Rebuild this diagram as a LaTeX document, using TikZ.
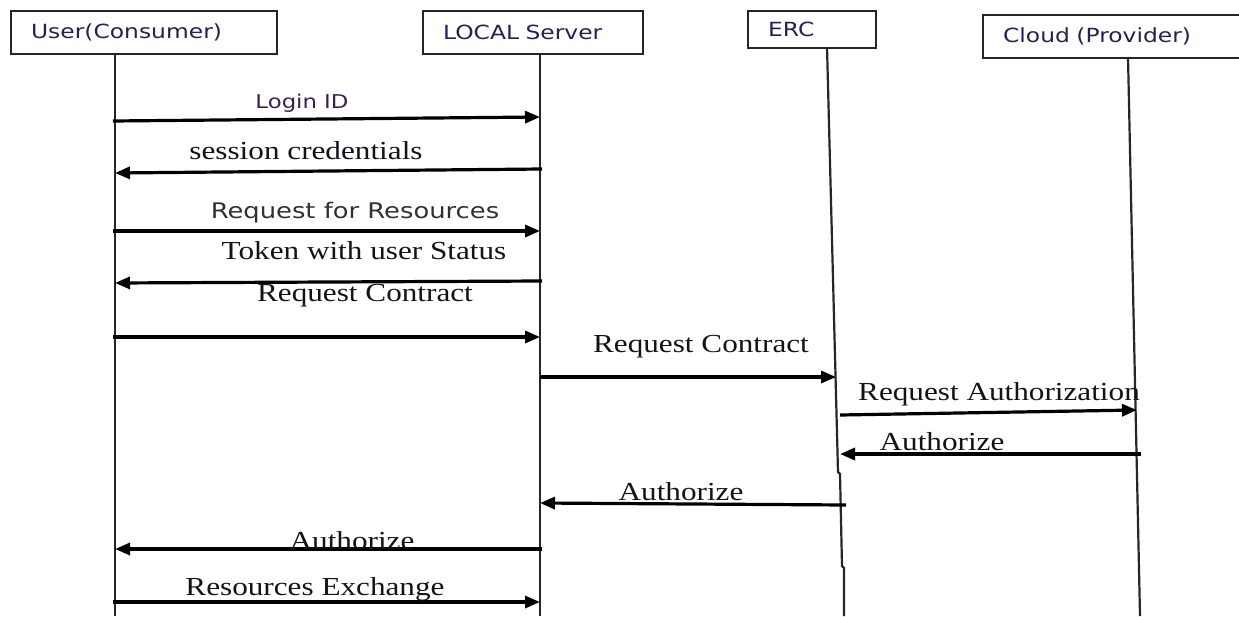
\documentclass[tikz,border=0pt]{standalone}
\usepackage{fontspec}
\setmainfont{Liberation Serif}
\newfontfamily\msgserif[FakeStretch=1.2]{Liberation Serif}
\newfontfamily\msgsans[FakeStretch=1.2]{DejaVu Sans}
\usetikzlibrary{arrows.meta}
\definecolor{hdrink}{RGB}{38,32,84}
\definecolor{loginink}{RGB}{58,30,88}
\definecolor{grayink}{RGB}{48,48,48}
\definecolor{serifink}{RGB}{20,18,24}

\begin{document}
\begin{tikzpicture}[x=1pt,y=-1pt,
  actor/.style={draw=black!85, line width=2.2pt, anchor=north west,
    inner xsep=20pt, inner ysep=0pt, align=left,
    font=\msgsans\fontsize{19.5}{22}\selectfont, text=hdrink},
  life/.style={draw=black!85, line width=2.2pt},
  msg/.style={draw=black, line width=3.2pt,
    -{Triangle[length=15pt,width=12pt]}},
  sanslbl/.style={inner sep=0pt, font=\msgsans\fontsize{19}{22}\selectfont},
  seriflbl/.style={inner sep=0pt, text=serifink,
    font=\msgserif\fontsize{26}{30}\selectfont}
]
\useasboundingbox (0,0) rectangle (1239,616);

% participants
\node[actor, text width=226pt, minimum height=43pt] (user)  at (10,10)  {User(Consumer)};
\node[actor, text width=180pt, minimum height=43pt] (local) at (422,10) {LOCAL Server};
\node[actor, text width=88pt,  minimum height=37pt] (erc)   at (747,10) {ERC};
\node[actor, text width=228pt, minimum height=43pt] (cloud) at (982,14) {Cloud (Provider)};

% lifelines
\coordinate (uBot) at (115,616);
\coordinate (lBot) at (540,616);
\coordinate (eBot) at (844,616);
\coordinate (cBot) at (1140,616);
\draw[life] (user.south -| uBot) -- (uBot);
\draw[life] (local.south -| lBot) -- (lBot);
\draw[life] (827,47) -- (838,472) -- (840,474) -- (842,566) -- (844,568) -- (eBot);
\draw[life] (1128,57) -- (cBot);

% message end points
\coordinate (m1a) at (113,121);  \coordinate (m1b) at (540,117);
\coordinate (m2a) at (542,169);  \coordinate (m2b) at (115,173);
\coordinate (m3a) at (113,231);  \coordinate (m3b) at (540,231);
\coordinate (m4a) at (542,281);  \coordinate (m4b) at (115,283);
\coordinate (m5a) at (113,337);  \coordinate (m5b) at (540,337);
\coordinate (m6a) at (540,377);  \coordinate (m6b) at (836,377);
\coordinate (m7a) at (840,415);  \coordinate (m7b) at (1137,410);
\coordinate (m8a) at (1141,454); \coordinate (m8b) at (840,454);
\coordinate (m9a) at (846,505);  \coordinate (m9b) at (540,503);
\coordinate (m10a) at (542,549); \coordinate (m10b) at (115,549);
\coordinate (m11a) at (113,602); \coordinate (m11b) at (540,602);

% messages
\draw[msg] (m1a) -- (m1b);
\draw[msg] (m2a) -- (m2b);
\draw[msg] (m3a) -- (m3b);
\draw[msg] (m4a) -- (m4b);
\draw[msg] (m5a) -- (m5b);
\draw[msg] (m6a) -- (m6b);
\draw[msg] (m7a) -- (m7b);
\draw[msg] (m8a) -- (m8b);
\draw[msg] (m9a) -- (m9b);
\draw[msg] (m10a) -- (m10b);
\draw[msg] (m11a) -- (m11b);

% message labels
\node[sanslbl, text=loginink] (l1) at (302,103) {Login ID};
\node[seriflbl] (l2) at (306,151) {session credentials};
\node[sanslbl, text=grayink, font=\msgsans\fontsize{21.5}{24}\selectfont] (l3) at (355,213) {Request for Resources};
\node[seriflbl] (l4) at (364,251) {Token with user Status};
\node[seriflbl] (l5) at (365,296) {Request Contract};
\node[seriflbl] (l6) at (701,347) {Request Contract};
\node[seriflbl] (l7) at (999,394) {Request Authorization};
\node[seriflbl] (l8) at (942,442) {Authorize};
\node[seriflbl] (l9) at (681,492) {Authorize};
\node[seriflbl] (l10) at (352,541) {Authorize};
\node[seriflbl] (l11) at (315,589) {Resources Exchange};
\end{tikzpicture}
\end{document}
